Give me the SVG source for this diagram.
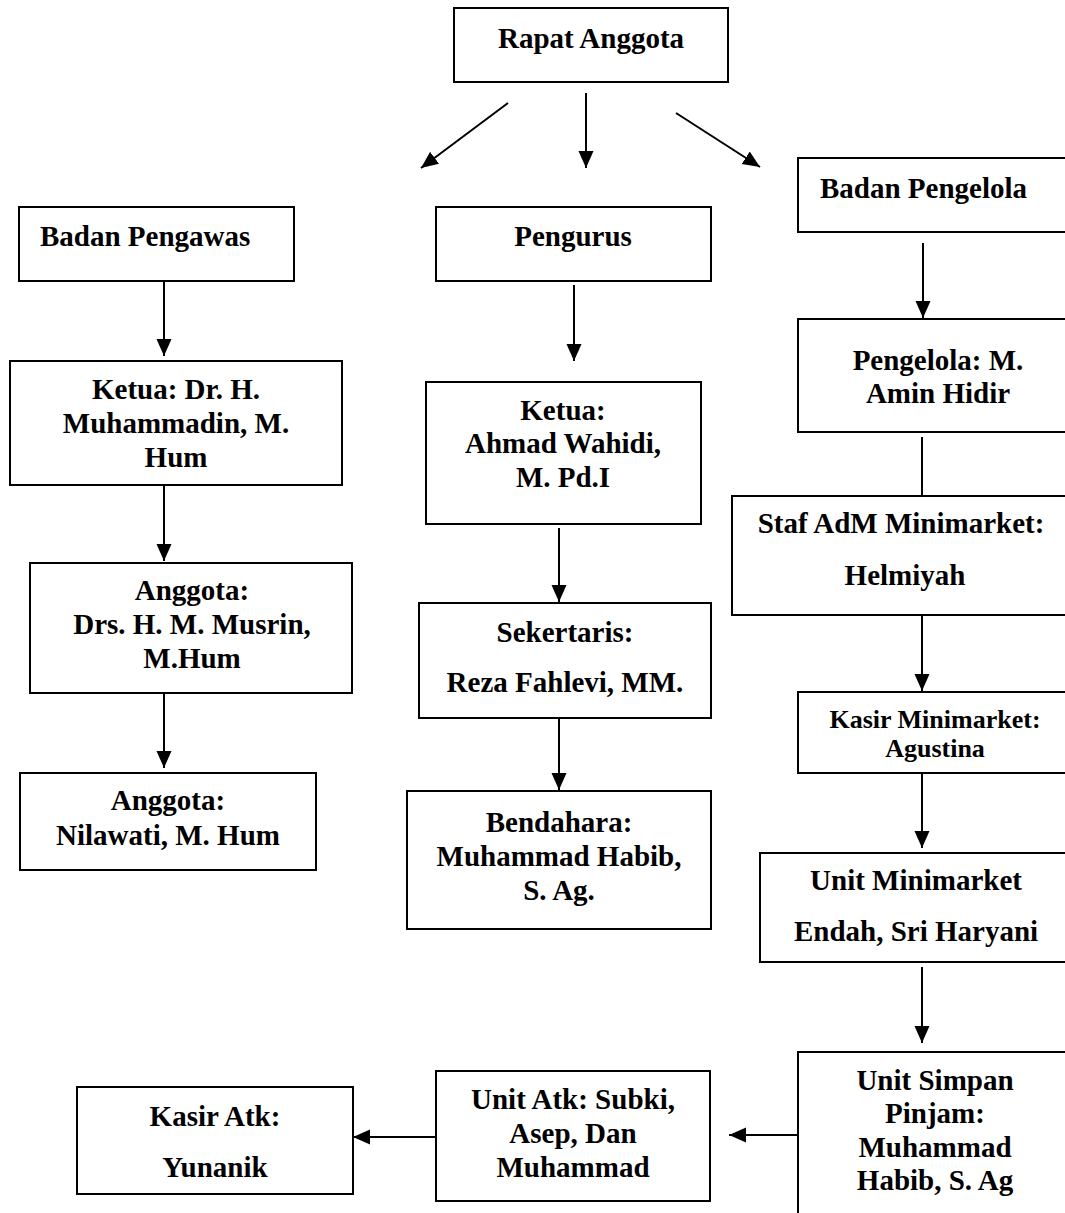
<svg xmlns="http://www.w3.org/2000/svg" width="1065" height="1213" viewBox="0 0 1065 1213">
<style>
.box{fill:#fff;stroke:#000;stroke-width:2}
.t{font-family:"Liberation Serif","Times New Roman",serif;font-weight:bold;font-size:29px;fill:#000;text-anchor:middle}
.l{text-anchor:start}
.s{font-size:26px}
.c{stroke:#000;stroke-width:2;fill:none}
.a{marker-end:url(#ah)}
</style>
<defs>
<marker id="ah" markerUnits="userSpaceOnUse" markerWidth="18" markerHeight="16" refX="17" refY="8" orient="auto">
<path d="M0,0.5 L17,8 L0,15.5 z" fill="#000"/>
</marker>
</defs>
<rect width="1065" height="1213" fill="#fff"/>
<g id="connectors">
<line class="c a" x1="508" y1="103" x2="421" y2="168"/>
<line class="c a" x1="586" y1="93" x2="586" y2="168"/>
<line class="c a" x1="676" y1="113" x2="760" y2="167"/>
<line class="c a" x1="164" y1="281" x2="164" y2="356"/>
<line class="c a" x1="164" y1="485" x2="164" y2="561"/>
<line class="c a" x1="164" y1="693" x2="164" y2="768"/>
<line class="c a" x1="574" y1="285" x2="574" y2="361"/>
<line class="c a" x1="559" y1="528" x2="559" y2="602"/>
<line class="c a" x1="559" y1="718" x2="559" y2="790"/>
<line class="c a" x1="923" y1="243" x2="923" y2="318"/>
<line class="c" x1="922" y1="437" x2="922" y2="496"/>
<line class="c a" x1="922" y1="615" x2="922" y2="691"/>
<line class="c a" x1="922" y1="773" x2="922" y2="848"/>
<line class="c a" x1="922" y1="967" x2="922" y2="1043"/>
<line class="c a" x1="798" y1="1135" x2="729" y2="1135"/>
<line class="c a" x1="436" y1="1137" x2="353" y2="1137"/>
</g>
<g id="rapat-anggota">
<rect class="box" x="454" y="8" width="274" height="74"/>
<text class="t" x="591" y="48">Rapat Anggota</text>
</g>
<g id="badan-pengawas">
<rect class="box" x="19" y="207" width="275" height="74"/>
<text class="t l" x="40" y="246">Badan Pengawas</text>
</g>
<g id="pengurus">
<rect class="box" x="436" y="207" width="275" height="74"/>
<text class="t" x="573" y="246">Pengurus</text>
</g>
<g id="badan-pengelola">
<rect class="box" x="798" y="158" width="280" height="74"/>
<text class="t l" x="820" y="198">Badan Pengelola</text>
</g>
<g id="ketua-pengawas">
<rect class="box" x="10" y="361" width="332" height="124"/>
<text class="t" x="176" y="399">Ketua: Dr. H.</text>
<text class="t" x="176" y="433">Muhammadin, M.</text>
<text class="t" x="176" y="467">Hum</text>
</g>
<g id="anggota-musrin">
<rect class="box" x="30" y="563" width="322" height="130"/>
<text class="t" x="192" y="600">Anggota:</text>
<text class="t" x="192" y="634">Drs. H. M. Musrin,</text>
<text class="t" x="192" y="668">M.Hum</text>
</g>
<g id="anggota-nilawati">
<rect class="box" x="20" y="773" width="296" height="97"/>
<text class="t" x="168" y="810">Anggota:</text>
<text class="t" x="168" y="845">Nilawati, M. Hum</text>
</g>
<g id="ketua-pengurus">
<rect class="box" x="426" y="382" width="275" height="142"/>
<text class="t" x="563" y="420">Ketua:</text>
<text class="t" x="563" y="453">Ahmad Wahidi,</text>
<text class="t" x="563" y="487">M. Pd.I</text>
</g>
<g id="sekertaris">
<rect class="box" x="419" y="603" width="292" height="115"/>
<text class="t" x="565" y="642">Sekertaris:</text>
<text class="t" x="565" y="692">Reza Fahlevi, MM.</text>
</g>
<g id="bendahara">
<rect class="box" x="407" y="791" width="304" height="138"/>
<text class="t" x="559" y="832">Bendahara:</text>
<text class="t" x="559" y="866">Muhammad Habib,</text>
<text class="t" x="559" y="900">S. Ag.</text>
</g>
<g id="pengelola">
<rect class="box" x="798" y="319" width="280" height="113"/>
<text class="t" x="938" y="370">Pengelola: M.</text>
<text class="t" x="938" y="403">Amin Hidir</text>
</g>
<g id="staf-adm">
<rect class="box" x="732" y="496" width="340" height="119"/>
<text class="t" x="901" y="533">Staf AdM Minimarket:</text>
<text class="t" x="905" y="585">Helmiyah</text>
</g>
<g id="kasir-minimarket">
<rect class="box" x="798" y="692" width="280" height="81"/>
<text class="t s" x="935" y="728">Kasir Minimarket:</text>
<text class="t s" x="935" y="757">Agustina</text>
</g>
<g id="unit-minimarket">
<rect class="box" x="760" y="853" width="315" height="109"/>
<text class="t" x="916" y="890">Unit Minimarket</text>
<text class="t" x="916" y="941">Endah, Sri Haryani</text>
</g>
<g id="unit-simpan-pinjam">
<rect class="box" x="798" y="1052" width="280" height="200"/>
<text class="t" x="935" y="1090">Unit Simpan</text>
<text class="t" x="935" y="1123">Pinjam:</text>
<text class="t" x="935" y="1157">Muhammad</text>
<text class="t" x="935" y="1190">Habib, S. Ag</text>
</g>
<g id="unit-atk">
<rect class="box" x="436" y="1071" width="274" height="130"/>
<text class="t" x="573" y="1109">Unit Atk: Subki,</text>
<text class="t" x="573" y="1143">Asep, Dan</text>
<text class="t" x="573" y="1177">Muhammad</text>
</g>
<g id="kasir-atk">
<rect class="box" x="77" y="1087" width="276" height="107"/>
<text class="t" x="215" y="1126">Kasir Atk:</text>
<text class="t" x="215" y="1177">Yunanik</text>
</g>
</svg>
